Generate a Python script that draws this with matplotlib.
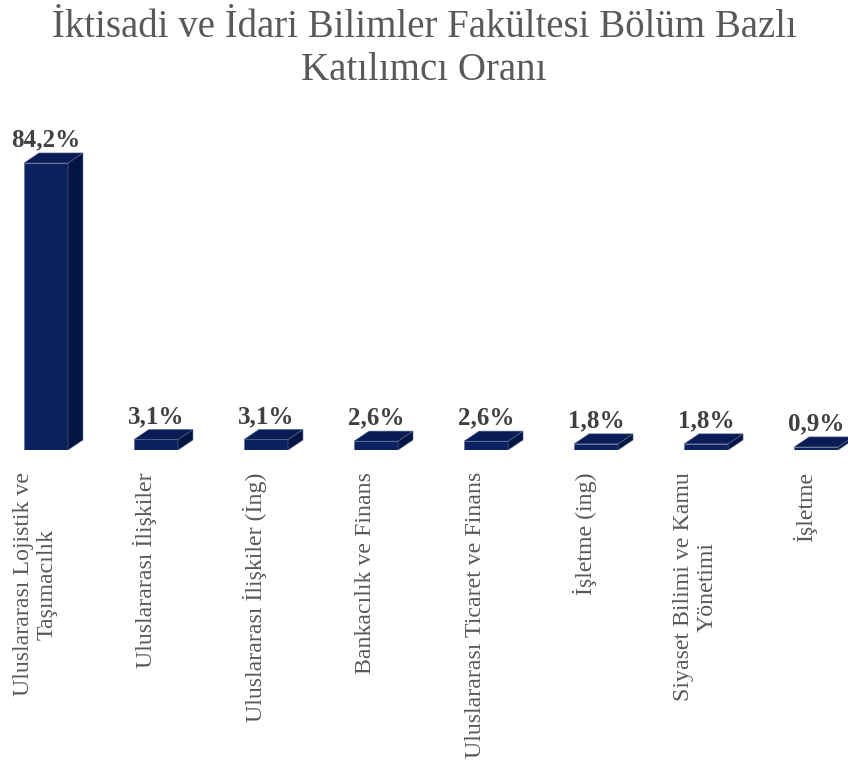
import numpy as np
import matplotlib
matplotlib.use("Agg")
import matplotlib.pyplot as plt
from matplotlib.patches import Polygon

plt.rcParams['font.family'] = ['Liberation Serif', 'DejaVu Serif']

# data
bolumler = ["Uluslararası Lojistik ve\nTaşımacılık", "Uluslararası İlişkiler",
            "Uluslararası İlişkiler (İng)", "Bankacılık ve Finans",
            "Uluslararası Ticaret ve Finans", "İşletme (ing)",
            "Siyaset Bilimi ve Kamu\nYönetimi", "İşletme"]
oranlar = [84.2, 3.1, 3.1, 2.6, 2.6, 1.8, 1.8, 0.9]
etiketler = ["84,2%", "3,1%", "3,1%", "2,6%", "2,6%", "1,8%", "1,8%", "0,9%"]

fig = plt.figure(figsize=(8.48, 7.71), dpi=100)
ax = fig.add_axes([0, 0.4163, 1, 0.428])
ax.set_xlim(-0.418, 7.29)
ax.set_ylim(0, 96.8)
ax.axis("off")

front = "#0c2260"
side = "#051543"
top = "#0a1c55"
edge = "#5a6a90"

w = 0.4      # bar width (category units)
dx = 0.136   # depth offset in x
dy = 2.95    # depth offset in y

x = np.arange(len(oranlar))
for xi, v, lab in zip(x, oranlar, etiketler):
    l, r = xi - w / 2, xi + w / 2
    ax.add_patch(Polygon([(l, 0), (r, 0), (r, v), (l, v)], closed=True,
                         facecolor=front, edgecolor=edge, lw=0.4))
    ax.add_patch(Polygon([(r, 0), (r + dx, dy), (r + dx, v + dy), (r, v)], closed=True,
                         facecolor=side, edgecolor=edge, lw=0.4))
    ax.add_patch(Polygon([(l, v), (r, v), (r + dx, v + dy), (l + dx, v + dy)], closed=True,
                         facecolor=top, edgecolor=edge, lw=0.4))
    ax.text(xi, v + dy + 0.4, lab, ha="center", va="bottom", fontsize=18,
            fontweight="bold", color="#404040")

# category labels under the bars
for xi, name in zip(x, bolumler):
    ax.text(xi - 0.1, -6.5, name, rotation=90, ha="center", va="top",
            multialignment="center", fontsize=17.2, color="#595959",
            linespacing=1.15)

fig.text(0.5, 1 - 9 / 771, "İktisadi ve İdari Bilimler Fakültesi Bölüm Bazlı\nKatılımcı Oranı",
         ha="center", va="top", fontsize=28, color="#595959", linespacing=1.22)

fig.savefig("out.png", dpi=100, facecolor="white")
